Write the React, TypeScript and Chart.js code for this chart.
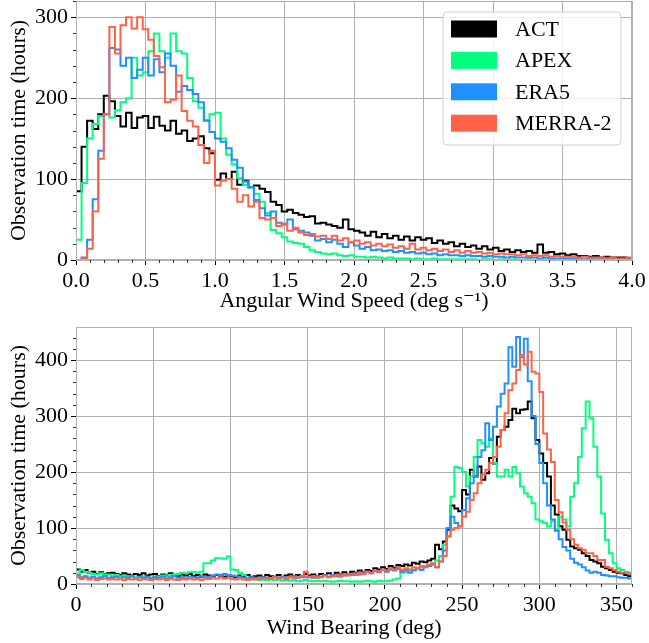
import React, { useEffect, useRef } from 'react';
import { Chart, registerables } from 'chart.js';

Chart.register(...registerables);

const SERIES = ['ACT', 'APEX', 'ERA5', 'MERRA-2'];
const COLORS = ['#000000', '#00ff7f', '#1e90ff', '#ff6347'];

// ---- Angular wind speed histogram (bins of 0.04 deg/s from 0 to 4) ----
const speedBinStart = 0;
const speedBinWidth = 0.04;
const speedTicks = [0, 0.5, 1, 1.5, 2, 2.5, 3, 3.5, 4];
const speedACT = [
  85, 140, 172, 162, 180, 203, 196, 178, 165, 182,
  163, 176, 178, 163, 177, 166, 160, 172, 156, 160,
  147, 150, 153, 138, 132, 99, 107, 100, 109, 93,
  98, 90, 92, 88, 84, 72, 68, 60, 62, 58,
  56, 53, 54, 45, 46, 44, 42, 40, 50, 38,
  36, 34, 30, 35, 28, 32, 27, 30, 25, 29,
  24, 28, 25, 27, 21, 24, 20, 22, 17, 20,
  16, 18, 14, 17, 13, 15, 11, 13, 10, 12,
  10, 11, 9, 19, 9, 10, 7, 8, 6, 7,
  5, 5, 4, 5, 3, 4, 3, 3, 3, 2,
];
const speedAPEX = [
  25, 95, 150, 168, 178, 180, 176, 185, 195, 200,
  250, 228, 232, 258, 280, 258, 250, 280, 258, 255,
  225, 196, 188, 173, 180, 182, 150, 130, 118, 101,
  93, 90, 82, 72, 58, 37, 33, 28, 23, 21,
  20, 16, 12, 10, 8, 7, 8, 6, 5, 6,
  4, 4, 3, 4, 3, 2, 3, 2, 2, 2,
  1, 2, 1, 1, 2, 1, 1, 1, 1, 1,
  1, 1, 0, 1, 1, 0, 1, 0, 1, 0,
  0, 1, 0, 0, 1, 0, 0, 0, 1, 0,
  0, 0, 1, 0, 0, 0, 0, 0, 0, 0,
];
const speedERA5 = [
  0, 3, 25, 75, 135, 180, 262, 260, 240, 250,
  225, 235, 250, 228, 248, 232, 255, 240, 208, 215,
  210, 205, 195, 172, 158, 150, 146, 138, 124, 114,
  97, 90, 74, 64, 55, 60, 46, 44, 50, 38,
  36, 34, 30, 24, 26, 22, 25, 20, 16, 22,
  18, 14, 16, 12, 13, 11, 12, 10, 11, 9,
  10, 8, 9, 7, 8, 6, 7, 6, 6, 5,
  6, 5, 5, 4, 5, 4, 4, 3, 4, 3,
  3, 3, 3, 2, 3, 2, 2, 2, 2, 2,
  2, 1, 2, 1, 1, 1, 1, 1, 1, 1,
];
const speedMERRA2 = [
  0, 2, 14, 60, 125, 180, 288, 255, 290, 300,
  286, 300, 285, 272, 252, 238, 195, 198, 228, 184,
  172, 165, 142, 120, 135, 92, 98, 100, 88, 72,
  80, 66, 72, 52, 50, 52, 42, 45, 36, 40,
  34, 31, 32, 29, 30, 26, 30, 24, 27, 22,
  24, 20, 22, 18, 20, 17, 19, 15, 17, 14,
  20, 13, 15, 12, 14, 11, 13, 10, 12, 9,
  11, 9, 10, 8, 9, 7, 8, 7, 7, 6,
  7, 5, 6, 5, 6, 4, 5, 4, 4, 4,
  3, 4, 3, 3, 3, 2, 3, 2, 2, 3,
];

// ---- Wind bearing histogram (bins of 2.5 deg from 0 to 360) ----
const bearingBinStart = 0;
const bearingBinWidth = 2.5;
const bearingTicks = [0, 50, 100, 150, 200, 250, 300, 350];
const bearingACT = [
  26, 22, 25, 20, 22, 18, 21, 17, 19, 20,
  18, 16, 19, 17, 15, 18, 16, 19, 15, 17,
  18, 14, 17, 15, 19, 16, 14, 17, 15, 18,
  14, 16, 13, 17, 15, 12, 16, 14, 13, 15,
  14, 12, 15, 13, 16, 12, 14, 15, 12, 16,
  14, 13, 16, 12, 15, 17, 14, 16, 13, 18,
  15, 17, 14, 18, 16, 19, 15, 20, 17, 21,
  18, 22, 20, 24, 21, 25, 23, 28, 26, 30,
  27, 32, 29, 34, 32, 35, 33, 38, 36, 40,
  39, 42, 45, 70, 62, 76, 97, 140, 135, 130,
  168, 160, 204, 192, 210, 186, 198, 225, 215, 263,
  275, 281, 293, 313, 305, 311, 312, 326, 296, 257,
  233, 216, 192, 140, 124, 103, 97, 79, 67, 64,
  61, 55, 50, 43, 40, 37, 31, 28, 25, 22,
  20, 19, 16, 14,
];
const bearingAPEX = [
  18, 25, 22, 20, 18, 17, 19, 16, 17, 15,
  16, 14, 15, 13, 14, 12, 13, 14, 12, 11,
  14, 13, 15, 14, 16, 17, 18, 20, 19, 21,
  22, 20, 22, 37, 37, 42, 46, 46, 45, 49,
  26, 25, 20, 16, 9, 8, 9, 7, 8, 7,
  8, 7, 8, 6, 7, 6, 7, 5, 6, 7,
  6, 5, 6, 5, 6, 5, 4, 5, 6, 5,
  5, 4, 5, 4, 5, 6, 5, 4, 6, 5,
  5, 6, 8, 10, 20, 22, 24, 25, 28, 30,
  32, 33, 36, 42, 50, 70, 85, 156, 209, 207,
  200, 174, 192, 227, 257, 251, 245, 260, 216, 192,
  192, 204, 192, 209, 198, 174, 162, 156, 144, 115,
  112, 109, 103, 112, 97, 120, 115, 103, 156, 180,
  227, 278, 326, 296, 245, 192, 126, 79, 55, 37,
  28, 25, 22, 20,
];
const bearingERA5 = [
  15, 12, 14, 11, 13, 10, 12, 14, 11, 12,
  13, 10, 12, 11, 14, 10, 12, 11, 13, 10,
  12, 11, 13, 10, 12, 14, 11, 12, 10, 13,
  12, 11, 14, 12, 13, 15, 17, 16, 18, 16,
  15, 14, 12, 11, 10, 12, 11, 10, 12, 11,
  10, 12, 11, 13, 10, 12, 14, 11, 13, 12,
  13, 11, 14, 12, 15, 13, 16, 14, 17, 15,
  18, 16, 19, 17, 20, 22, 19, 23, 21, 25,
  22, 26, 24, 27, 22, 25, 20, 24, 28, 25,
  30, 32, 35, 30, 40, 60, 100, 120, 109, 103,
  132, 153, 180, 192, 227, 239, 287, 257, 281, 317,
  340, 358, 423, 388, 441, 405, 438, 362, 300, 250,
  216, 180, 140, 115, 95, 80, 66, 60, 45, 38,
  35, 30, 24, 20, 22, 20, 16, 15, 14, 14,
  12, 11, 11, 10,
];
const bearingMERRA2 = [
  12, 9, 11, 8, 10, 7, 9, 10, 8, 9,
  8, 10, 7, 9, 8, 10, 7, 9, 8, 7,
  9, 8, 10, 7, 9, 8, 7, 9, 8, 10,
  8, 9, 7, 10, 9, 11, 10, 12, 10, 11,
  9, 8, 10, 8, 7, 9, 8, 10, 9, 11,
  10, 12, 9, 11, 10, 13, 11, 12, 14, 22,
  12, 14, 11, 13, 15, 12, 14, 16, 13, 17,
  15, 18, 16, 20, 18, 22, 19, 24, 22, 26,
  24, 28, 26, 30, 25, 28, 26, 30, 28, 32,
  30, 35, 37, 30, 40, 50, 85, 97, 100, 103,
  120, 129, 150, 162, 180, 195, 204, 216, 227, 245,
  275, 305, 346, 358, 382, 409, 392, 415, 379, 376,
  343, 269, 240, 218, 150, 128, 110, 97, 80, 70,
  64, 61, 55, 55, 50, 43, 43, 31, 28, 25,
  22, 20, 20, 18,
];

const FONT = "'Liberation Serif', 'Times New Roman', 'DejaVu Serif', serif";

function histPoints(counts: number[], start: number, width: number) {
  const pts: { x: number; y: number }[] = [{ x: start, y: 0 }];
  counts.forEach((c, i) => pts.push({ x: start + i * width, y: c }));
  const end = start + counts.length * width;
  pts.push({ x: end, y: counts[counts.length - 1] });
  pts.push({ x: end, y: 0 });
  return pts;
}

function minorValues(min: number, max: number, step: number, major: number) {
  const out: number[] = [];
  const n = Math.round((max - min) / step);
  for (let i = 0; i <= n; i++) {
    const v = min + i * step;
    const r = v / major;
    if (Math.abs(r - Math.round(r)) > 1e-6) out.push(v);
  }
  return out;
}

const minorTicksPlugin = {
  id: 'minorTicks',
  afterDraw(chart: any, _args: any, opts: any) {
    const ctx = chart.ctx;
    const xs = chart.scales.x;
    const ys = chart.scales.y;
    ctx.save();
    ctx.strokeStyle = '#000';
    ctx.lineWidth = 0.8;
    ctx.beginPath();
    (opts.xValues || []).forEach((v: number) => {
      const px = Math.round(xs.getPixelForValue(v)) + 0.5;
      ctx.moveTo(px, xs.top);
      ctx.lineTo(px, xs.top + 3);
    });
    (opts.yValues || []).forEach((v: number) => {
      const py = Math.round(ys.getPixelForValue(v)) + 0.5;
      ctx.moveTo(ys.right, py);
      ctx.lineTo(ys.right - 3, py);
    });
    ctx.stroke();
    ctx.restore();
  },
};

const framePlugin = {
  id: 'frame',
  afterDatasetsDraw(chart: any) {
    const { left, top, right, bottom } = chart.chartArea;
    const ctx = chart.ctx;
    ctx.save();
    ctx.strokeStyle = '#b0b0b0';
    ctx.lineWidth = 1;
    ctx.strokeRect(Math.round(left) + 0.5, Math.round(top) + 0.5, Math.round(right - left) - 1, Math.round(bottom - top) - 1);
    ctx.restore();
  },
};

const boxLegendPlugin = {
  id: 'boxLegend',
  afterDatasetsDraw(chart: any, _args: any, opts: any) {
    if (!opts || !opts.show) return;
    const ctx = chart.ctx;
    const { x, y, w, h } = opts;
    ctx.save();
    ctx.beginPath();
    const r = 4;
    ctx.moveTo(x + r, y);
    ctx.arcTo(x + w, y, x + w, y + h, r);
    ctx.arcTo(x + w, y + h, x, y + h, r);
    ctx.arcTo(x, y + h, x, y, r);
    ctx.arcTo(x, y, x + w, y, r);
    ctx.closePath();
    ctx.fillStyle = 'rgba(255,255,255,0.8)';
    ctx.fill();
    ctx.strokeStyle = '#d0d0d0';
    ctx.lineWidth = 1;
    ctx.stroke();
    ctx.font = `22px ${FONT}`;
    ctx.textBaseline = 'middle';
    ctx.textAlign = 'left';
    SERIES.forEach((name, i) => {
      const cy = y + 17 + i * 31.4;
      ctx.fillStyle = COLORS[i];
      ctx.fillRect(x + 8, cy - 8.5, 46, 17);
      ctx.fillStyle = '#000';
      ctx.fillText(name, x + 72, cy + 1);
    });
    ctx.restore();
  },
};

function makeConfig(p: any) {
  const all = [p.act, p.apex, p.era5, p.merra];
  const datasets = all.map((counts: number[], i: number) => ({
    label: SERIES[i],
    data: histPoints(counts, p.binStart, p.binWidth),
    borderColor: COLORS[i],
    backgroundColor: COLORS[i],
    borderWidth: 2,
    stepped: true,
    pointRadius: 0,
    fill: false,
    order: 4 - i,
  }));
  const tickFont = { family: FONT, size: 22 };
  return {
    type: 'line',
    data: { datasets },
    plugins: [minorTicksPlugin, framePlugin, boxLegendPlugin],
    options: {
      animation: false,
      responsive: false,
      devicePixelRatio: 1,
      events: [],
      layout: { padding: { top: p.padTop, right: 17, bottom: 0, left: 0 } },
      plugins: {
        legend: { display: false },
        tooltip: { enabled: false },
        minorTicks: { xValues: p.xMinor, yValues: p.yMinor },
        boxLegend: p.legend,
      },
      scales: {
        x: {
          type: 'linear',
          min: p.xMin,
          max: p.xMax,
          afterBuildTicks: (s: any) => {
            s.ticks = p.xTicks.map((v: number) => ({ value: v }));
          },
          ticks: {
            font: tickFont,
            color: '#000',
            padding: 3,
            maxRotation: 0,
            autoSkip: false,
            callback: p.xFmt,
          },
          grid: { color: '#b0b0b0', lineWidth: 1, tickColor: '#000', tickLength: 5 },
          border: { color: '#b0b0b0', width: 1 },
          title: {
            display: true,
            text: p.xTitle,
            color: '#000',
            font: { family: FONT, size: 22 },
            padding: { top: 0, bottom: p.xTitlePad },
          },
          afterFit: (s: any) => {
            s.height = p.xHeight;
            s.paddingLeft = 0;
            s.paddingRight = 0;
          },
        },
        y: {
          type: 'linear',
          min: 0,
          max: p.yMax,
          afterBuildTicks: (s: any) => {
            s.ticks = p.yTicks.map((v: number) => ({ value: v }));
          },
          ticks: {
            font: tickFont,
            color: '#000',
            padding: 3,
            autoSkip: false,
            callback: (v: any) => String(v),
          },
          grid: { color: '#b0b0b0', lineWidth: 1, tickColor: '#000', tickLength: 5 },
          border: { color: '#b0b0b0', width: 1 },
          title: {
            display: true,
            text: 'Observation time (hours)',
            color: '#000',
            font: { family: FONT, size: 22 },
            padding: { top: 6, bottom: 0 },
          },
          afterFit: (s: any) => {
            s.width = 76;
            s.paddingTop = 0;
            s.paddingBottom = 0;
          },
        },
      },
    },
  } as any;
}

export default function App() {
  const topRef = useRef<HTMLCanvasElement>(null);
  const botRef = useRef<HTMLCanvasElement>(null);

  useEffect(() => {
    const c1 = new Chart(
      topRef.current as HTMLCanvasElement,
      makeConfig({
        act: speedACT,
        apex: speedAPEX,
        era5: speedERA5,
        merra: speedMERRA2,
        binStart: speedBinStart,
        binWidth: speedBinWidth,
        xMin: 0,
        xMax: 4,
        xTicks: speedTicks,
        xFmt: (v: any) => Number(v).toFixed(1),
        xMinor: minorValues(0, 4, 0.1, 0.5),
        yMax: 320,
        yTicks: [0, 100, 200, 300],
        yMinor: minorValues(0, 320, 20, 100),
        xTitle: 'Angular Wind Speed (deg s\u207B\u00B9)',
        xTitlePad: 4,
        padTop: 1,
        xHeight: 58,
        legend: { show: true, x: 443, y: 12, w: 178, h: 133 },
      })
    );
    const c2 = new Chart(
      botRef.current as HTMLCanvasElement,
      makeConfig({
        act: bearingACT,
        apex: bearingAPEX,
        era5: bearingERA5,
        merra: bearingMERRA2,
        binStart: bearingBinStart,
        binWidth: bearingBinWidth,
        xMin: 0,
        xMax: 360,
        xTicks: bearingTicks,
        xFmt: (v: any) => String(v),
        xMinor: minorValues(0, 360, 10, 50),
        yMax: 459,
        yTicks: [0, 100, 200, 300, 400],
        yMinor: minorValues(0, 440, 20, 100),
        xTitle: 'Wind Bearing (deg)',
        xTitlePad: 2,
        padTop: 9,
        xHeight: 59,
        legend: { show: false },
      })
    );
    return () => {
      c1.destroy();
      c2.destroy();
    };
  }, []);

  return (
    <div style={{ position: 'absolute', left: 0, top: 0, width: 649, height: 643, background: '#fff' }}>
      <canvas
        ref={topRef}
        width={649}
        height={318}
        style={{ position: 'absolute', left: 0, top: 0, width: 649, height: 318, display: 'block' }}
      />
      <canvas
        ref={botRef}
        width={649}
        height={325}
        style={{ position: 'absolute', left: 0, top: 318, width: 649, height: 325, display: 'block' }}
      />
    </div>
  );
}
